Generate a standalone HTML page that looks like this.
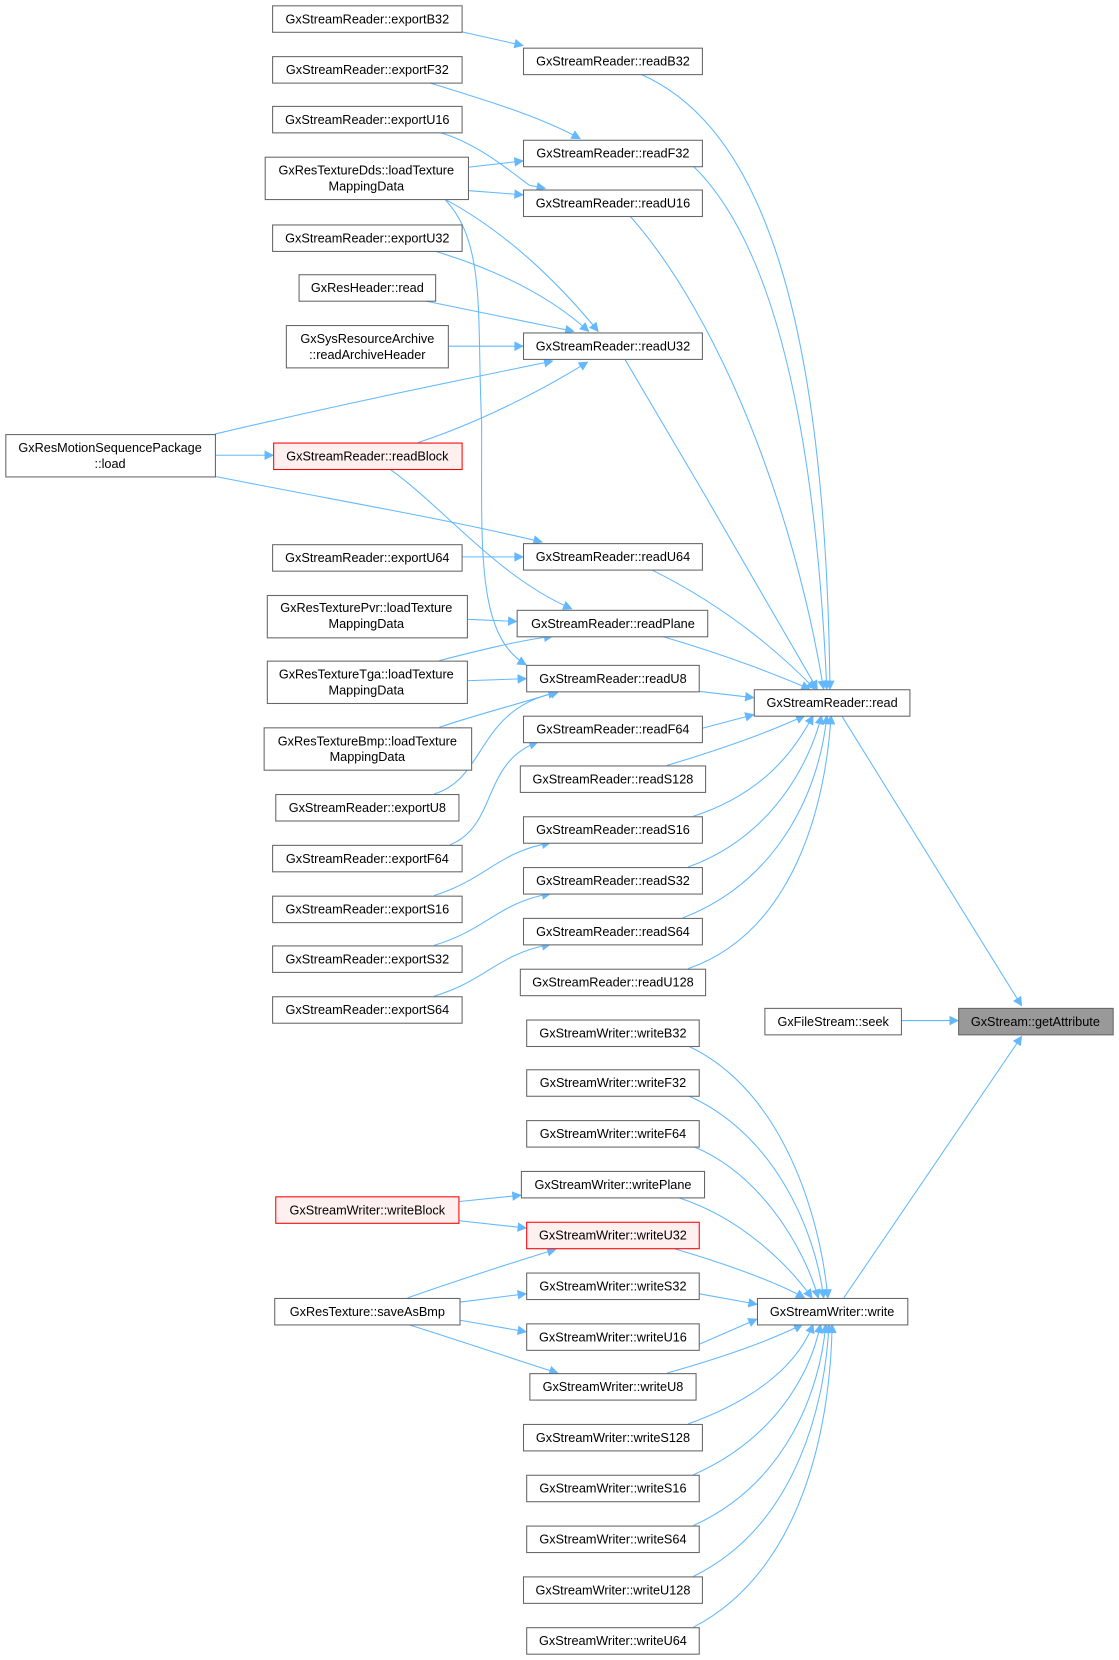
<!DOCTYPE html>
<html><head><meta charset="utf-8"><style>
html,body{margin:0;padding:0;background:#fff;}
svg{display:block;}
text{font-family:"Liberation Sans",sans-serif;font-size:12px;fill:#000;}
.n{fill:#fff;stroke:#666;stroke-width:1;}
.r{fill:#fff0f0;stroke:#f00;stroke-width:1;}
.g{fill:#999;stroke:#666;stroke-width:1;}
.e{fill:none;stroke:#63b8ff;stroke-width:1;marker-end:url(#a);}
</style></head><body>
<svg width="1119" height="1660" viewBox="0 0 1057 1568" preserveAspectRatio="none" xmlns="http://www.w3.org/2000/svg">
<defs><marker id="a" viewBox="0 0 10 10" refX="9" refY="5" markerWidth="12" markerHeight="9" markerUnits="userSpaceOnUse" orient="auto"><path d="M0,0 L10,5 L0,10 z" fill="#63b8ff"/></marker></defs>
<g>
<!-- edges to read -->
<path class="e" d="M605,70 C720,120 780,300 784,651"/>
<path class="e" d="M655,157 C730,230 770,400 781,651"/>
<path class="e" d="M595,204 C680,300 750,480 778,651"/>
<path class="e" d="M590,339 C650,440 720,560 772,651"/>
<path class="e" d="M615,538 C680,570 730,610 770,651"/>
<path class="e" d="M625,601 C690,620 740,640 765,651"/>
<path class="e" d="M660,653 L712,659"/>
<path class="e" d="M663,688 L712,675"/>
<path class="e" d="M630,723 C690,705 730,690 760,676"/>
<path class="e" d="M655,771 C720,750 750,710 768,676"/>
<path class="e" d="M650,819 C730,790 765,720 776,676"/>
<path class="e" d="M645,867 C740,830 775,740 781,676"/>
<path class="e" d="M650,915 C750,880 780,760 785,676"/>
<path class="e" d="M795,676 L965,950"/>
<path class="e" d="M851,964 L905,964"/>
<path class="e" d="M797,1226 L965,979"/>
<!-- edges to write -->
<path class="e" d="M650,988 C740,1030 775,1150 782,1226"/>
<path class="e" d="M650,1035 C730,1070 770,1160 778,1226"/>
<path class="e" d="M655,1083 C720,1110 760,1180 773,1226"/>
<path class="e" d="M640,1131 C700,1150 745,1195 767,1226"/>
<path class="e" d="M635,1179 C690,1195 735,1212 760,1226"/>
<path class="e" d="M660,1222 L715,1232"/>
<path class="e" d="M660,1270 L715,1246"/>
<path class="e" d="M630,1297 C690,1280 730,1265 758,1251"/>
<path class="e" d="M650,1345 C720,1320 755,1285 768,1251"/>
<path class="e" d="M655,1393 C730,1360 765,1300 775,1251"/>
<path class="e" d="M655,1441 C745,1400 775,1310 780,1251"/>
<path class="e" d="M655,1489 C755,1440 780,1320 783,1251"/>
<path class="e" d="M655,1537 C765,1480 785,1330 786,1251"/>
<!-- left edges -->
<path class="e" d="M436,30 L494,43"/>
<path class="e" d="M405,78 C460,95 510,110 548,131"/>
<path class="e" d="M415,125 C450,135 480,160 500,175 L515,178"/>
<path class="e" d="M442,158 L494,152"/>
<path class="e" d="M442,180 L494,184"/>
<path class="e" d="M420,188 C480,220 530,270 565,313"/>
<path class="e" d="M420,188 C460,230 450,300 455,400 C455,520 450,600 497,628"/>
<path class="e" d="M410,237 C470,255 520,280 556,313"/>
<path class="e" d="M400,284 L542,313"/>
<path class="e" d="M423,327 L494,327"/>
<path class="e" d="M203,410 C330,380 430,360 522,341"/>
<path class="e" d="M395,418 C450,400 510,370 555,342"/>
<path class="e" d="M203,430 L258,430"/>
<path class="e" d="M203,450 C330,475 420,490 512,512"/>
<path class="e" d="M368,443 C420,480 470,545 540,575"/>
<path class="e" d="M436,526 L494,526"/>
<path class="e" d="M441,585 L488,587"/>
<path class="e" d="M415,624 C450,615 490,605 522,601"/>
<path class="e" d="M441,643 L497,641"/>
<path class="e" d="M415,687 C450,675 490,665 528,653"/>
<path class="e" d="M410,750 C460,735 450,670 526,654"/>
<path class="e" d="M425,798 C470,780 455,720 508,701"/>
<path class="e" d="M410,846 C460,830 470,805 520,796"/>
<path class="e" d="M410,893 C460,878 470,853 520,844"/>
<path class="e" d="M410,941 C460,926 470,901 520,892"/>
<path class="e" d="M433,1135 L492,1129"/>
<path class="e" d="M433,1153 L497,1160"/>
<path class="e" d="M385,1226 C430,1210 480,1194 525,1180"/>
<path class="e" d="M434,1230 L497,1222"/>
<path class="e" d="M434,1247 L497,1258"/>
<path class="e" d="M385,1251 C430,1265 480,1282 527,1297"/>
</g>
<g>
<rect class="n" x="257.5" y="5.5" width="179" height="25"/><text x="347" y="22" text-anchor="middle">GxStreamReader::exportB32</text>
<rect class="n" x="257.5" y="53.5" width="179" height="25"/><text x="347" y="70" text-anchor="middle">GxStreamReader::exportF32</text>
<rect class="n" x="257.5" y="100.5" width="179" height="25"/><text x="347" y="117" text-anchor="middle">GxStreamReader::exportU16</text>
<rect class="n" x="250.5" y="148.5" width="192" height="40"/><text x="346" y="165" text-anchor="middle">GxResTextureDds::loadTexture</text><text x="346" y="180" text-anchor="middle">MappingData</text>
<rect class="n" x="257.5" y="212.5" width="179" height="25"/><text x="347" y="229" text-anchor="middle">GxStreamReader::exportU32</text>
<rect class="n" x="282.5" y="259.5" width="129" height="25"/><text x="347" y="276" text-anchor="middle">GxResHeader::read</text>
<rect class="n" x="270.5" y="307.5" width="153" height="40"/><text x="347" y="324" text-anchor="middle">GxSysResourceArchive</text><text x="347" y="339" text-anchor="middle">::readArchiveHeader</text>
<rect class="n" x="5.5" y="410.5" width="198" height="40"/><text x="104" y="427" text-anchor="middle">GxResMotionSequencePackage</text><text x="104" y="442" text-anchor="middle">::load</text>
<rect class="r" x="258.5" y="418.5" width="178" height="25"/><text x="347" y="435" text-anchor="middle">GxStreamReader::readBlock</text>
<rect class="n" x="257.5" y="514.5" width="179" height="25"/><text x="347" y="531" text-anchor="middle">GxStreamReader::exportU64</text>
<rect class="n" x="252.5" y="562.5" width="189" height="40"/><text x="346" y="578" text-anchor="middle">GxResTexturePvr::loadTexture</text><text x="346" y="593" text-anchor="middle">MappingData</text>
<rect class="n" x="252.5" y="624.5" width="189" height="40"/><text x="346" y="641" text-anchor="middle">GxResTextureTga::loadTexture</text><text x="346" y="656" text-anchor="middle">MappingData</text>
<rect class="n" x="249.5" y="687.5" width="196" height="40"/><text x="347" y="704" text-anchor="middle">GxResTextureBmp::loadTexture</text><text x="347" y="719" text-anchor="middle">MappingData</text>
<rect class="n" x="260.5" y="750.5" width="173" height="25"/><text x="347" y="767" text-anchor="middle">GxStreamReader::exportU8</text>
<rect class="n" x="257.5" y="798.5" width="179" height="25"/><text x="347" y="815" text-anchor="middle">GxStreamReader::exportF64</text>
<rect class="n" x="257.5" y="846.5" width="179" height="25"/><text x="347" y="863" text-anchor="middle">GxStreamReader::exportS16</text>
<rect class="n" x="257.5" y="893.5" width="179" height="25"/><text x="347" y="910" text-anchor="middle">GxStreamReader::exportS32</text>
<rect class="n" x="257.5" y="941.5" width="179" height="25"/><text x="347" y="958" text-anchor="middle">GxStreamReader::exportS64</text>
<rect class="r" x="260.5" y="1130.5" width="173" height="25"/><text x="347" y="1147" text-anchor="middle">GxStreamWriter::writeBlock</text>
<rect class="n" x="259.5" y="1226.5" width="175" height="25"/><text x="347" y="1243" text-anchor="middle">GxResTexture::saveAsBmp</text>

<rect class="n" x="494.5" y="45.5" width="169" height="25"/><text x="579" y="62" text-anchor="middle">GxStreamReader::readB32</text>
<rect class="n" x="494.5" y="132.5" width="169" height="25"/><text x="579" y="149" text-anchor="middle">GxStreamReader::readF32</text>
<rect class="n" x="494.5" y="179.5" width="169" height="25"/><text x="579" y="196" text-anchor="middle">GxStreamReader::readU16</text>
<rect class="n" x="494.5" y="314.5" width="169" height="25"/><text x="579" y="331" text-anchor="middle">GxStreamReader::readU32</text>
<rect class="n" x="494.5" y="513.5" width="169" height="25"/><text x="579" y="530" text-anchor="middle">GxStreamReader::readU64</text>
<rect class="n" x="488.5" y="576.5" width="180" height="25"/><text x="579" y="593" text-anchor="middle">GxStreamReader::readPlane</text>
<rect class="n" x="497.5" y="628.5" width="163" height="25"/><text x="579" y="645" text-anchor="middle">GxStreamReader::readU8</text>
<rect class="n" x="494.5" y="676.5" width="169" height="25"/><text x="579" y="693" text-anchor="middle">GxStreamReader::readF64</text>
<rect class="n" x="491.5" y="723.5" width="175" height="25"/><text x="579" y="740" text-anchor="middle">GxStreamReader::readS128</text>
<rect class="n" x="494.5" y="771.5" width="169" height="25"/><text x="579" y="788" text-anchor="middle">GxStreamReader::readS16</text>
<rect class="n" x="494.5" y="819.5" width="169" height="25"/><text x="579" y="836" text-anchor="middle">GxStreamReader::readS32</text>
<rect class="n" x="494.5" y="867.5" width="169" height="25"/><text x="579" y="884" text-anchor="middle">GxStreamReader::readS64</text>
<rect class="n" x="491.5" y="915.5" width="175" height="25"/><text x="579" y="932" text-anchor="middle">GxStreamReader::readU128</text>
<rect class="n" x="497.5" y="963.5" width="163" height="25"/><text x="579" y="980" text-anchor="middle">GxStreamWriter::writeB32</text>
<rect class="n" x="497.5" y="1010.5" width="163" height="25"/><text x="579" y="1027" text-anchor="middle">GxStreamWriter::writeF32</text>
<rect class="n" x="497.5" y="1058.5" width="163" height="25"/><text x="579" y="1075" text-anchor="middle">GxStreamWriter::writeF64</text>
<rect class="n" x="492.5" y="1106.5" width="173" height="25"/><text x="579" y="1123" text-anchor="middle">GxStreamWriter::writePlane</text>
<rect class="r" x="497.5" y="1154.5" width="163" height="25"/><text x="579" y="1171" text-anchor="middle">GxStreamWriter::writeU32</text>
<rect class="n" x="497.5" y="1202.5" width="163" height="25"/><text x="579" y="1219" text-anchor="middle">GxStreamWriter::writeS32</text>
<rect class="n" x="497.5" y="1250.5" width="163" height="25"/><text x="579" y="1267" text-anchor="middle">GxStreamWriter::writeU16</text>
<rect class="n" x="500.5" y="1297.5" width="157" height="25"/><text x="579" y="1314" text-anchor="middle">GxStreamWriter::writeU8</text>
<rect class="n" x="494.5" y="1345.5" width="169" height="25"/><text x="579" y="1362" text-anchor="middle">GxStreamWriter::writeS128</text>
<rect class="n" x="497.5" y="1393.5" width="163" height="25"/><text x="579" y="1410" text-anchor="middle">GxStreamWriter::writeS16</text>
<rect class="n" x="497.5" y="1441.5" width="163" height="25"/><text x="579" y="1458" text-anchor="middle">GxStreamWriter::writeS64</text>
<rect class="n" x="494.5" y="1489.5" width="169" height="25"/><text x="579" y="1506" text-anchor="middle">GxStreamWriter::writeU128</text>
<rect class="n" x="497.5" y="1537.5" width="163" height="25"/><text x="579" y="1554" text-anchor="middle">GxStreamWriter::writeU64</text>

<rect class="n" x="712.5" y="651.5" width="147" height="25"/><text x="786" y="668" text-anchor="middle">GxStreamReader::read</text>
<rect class="n" x="722.5" y="952.5" width="129" height="25"/><text x="787" y="969" text-anchor="middle">GxFileStream::seek</text>
<rect class="n" x="715.5" y="1226.5" width="142" height="25"/><text x="786" y="1243" text-anchor="middle">GxStreamWriter::write</text>
<rect class="g" x="905.5" y="952.5" width="146" height="25"/><text x="978" y="969" text-anchor="middle">GxStream::getAttribute</text>
</g>
</svg>
</body></html>
